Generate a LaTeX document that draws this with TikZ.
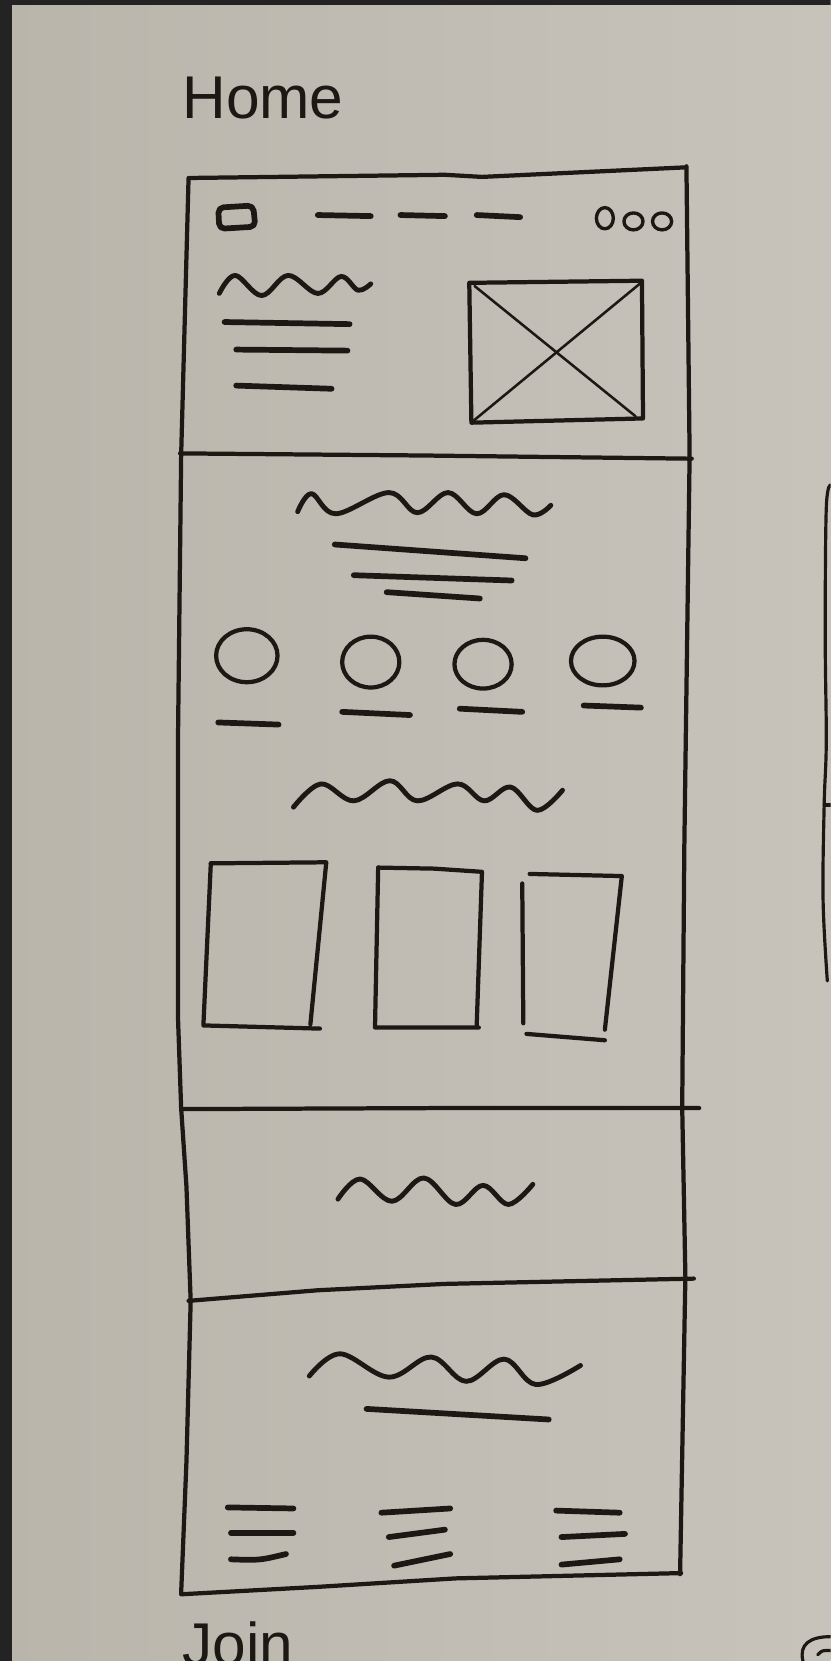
\documentclass[tikz,border=0pt]{standalone}
\usepackage{fontspec}
\setmainfont{Liberation Sans}
\definecolor{paperL}{HTML}{BAB5AB}
\definecolor{paperR}{HTML}{C7C3BB}
\definecolor{edgec}{HTML}{232323}
\definecolor{inkc}{HTML}{1C1915}
\begin{document}
\begin{tikzpicture}[x=1pt,y=-1pt,
  ink/.style={draw=inkc, line width=4pt, line cap=round, line join=round},
  scrib/.style={draw=inkc, line width=5.4pt, line cap=round, line join=round},
  thinink/.style={draw=inkc, line width=2.4pt, line cap=round},
  wave/.style={draw=inkc, line width=4.6pt, line cap=round, line join=round},
  label/.style={anchor=base west, inner sep=0pt, text=inkc, font=\fontsize{57}{60}\selectfont}]
\useasboundingbox (0,0) rectangle (784,1568);
\clip (0,0) rectangle (784,1568);
% paper
\shade[left color=paperL, right color=paperR] (0,0) rectangle (784,1568);
\fill[edgec] (0,0) rectangle (784,4.7);
\fill[edgec] (0,0) rectangle (11,1568);

% title texts
\node[label] (home) at (172,112) {Home};
\node[label] (join) at (172,1572) {Join};

% outer frame
\draw[ink] (180,168) -- (420,165) -- (455,167) -- (647,158);
\draw[ink] (648,157) -- (651,430) -- (646,800) -- (644,1045) -- (647,1205) -- (642,1486);
\draw[ink] (178,168) -- (171,430) -- (168,700) -- (168,960) -- (171,1046) -- (176,1120) -- (180,1228) -- (176,1380) -- (171,1504);
\draw[ink] (171,1505) -- (300,1498) -- (430,1490) -- (643,1485);
% section dividers
\draw[ink] (170,428) -- (400,430) -- (653,433);
\draw[ink] (172,1047) -- (420,1046) -- (660,1046);
\draw[ink] (178,1228) -- (300,1218) -- (420,1212) -- (655,1207);

% ---- header section
\draw[scrib, rounded corners=5pt] (206,196) -- (239,194) -- (241,214) -- (207,216) -- cycle;
\draw[scrib] (300,203) -- (350,204);
\draw[scrib] (378,203) -- (420,204);
\draw[scrib] (450,203) -- (491,205);
\draw[ink, line width=3.2pt] (571,206) ellipse [x radius=8, y radius=10];
\draw[ink, line width=3.2pt] (598,209) ellipse [x radius=9, y radius=8];
\draw[ink, line width=3.2pt] (625,209) ellipse [x radius=9, y radius=8];
\draw[wave] plot[smooth, tension=0.6] coordinates {(207,277) (222,260) (247,279) (272,260) (300,277) (322,261) (338,274) (350,268)};
\draw[scrib] (212,304) -- (330,306);
\draw[scrib] (223,330) -- (328,331);
\draw[scrib] (223,364) -- (313,367);
\draw[ink] (443,267) -- (606,265) -- (607,395) -- (445,399) -- cycle;
\draw[thinink] (448,270) -- (600,393);
\draw[thinink] (605,267) -- (446,398);

% ---- features section
\draw[wave] plot[smooth, tension=0.6] coordinates {(281,483) (294,466) (317,485) (367,465) (394,484) (423,465) (450,485) (476,467) (503,486) (520,477)};
\draw[scrib] (316,514) -- (496,527);
\draw[scrib] (334,543) -- (483,548);
\draw[scrib] (365,559) -- (453,565);
\draw[ink] (233,619) ellipse [x radius=29, y radius=25];
\draw[ink] (350,625) ellipse [x radius=27, y radius=24];
\draw[ink] (456,627) ellipse [x radius=27, y radius=23];
\draw[ink] (569,624) ellipse [x radius=30, y radius=23];
\draw[scrib] (206,682) -- (263,684);
\draw[scrib] (323,672) -- (387,675);
\draw[scrib] (434,669) -- (493,672);
\draw[scrib] (551,666) -- (605,668);
\draw[wave] plot[smooth, tension=0.6] coordinates {(277,762) (303,740) (334,756) (368,737) (394,756) (432,740) (457,756) (482,743) (507,765) (531,746)};
\draw[ink] (199,815) -- (308,814) -- (293,967);
\draw[ink] (199,815) -- (192,968) -- (302,971);
\draw[ink] (357,819) -- (410,820) -- (455,823) -- (450,968);
\draw[ink] (357,819) -- (354,970) -- (452,970);
\draw[ink] (500,825) -- (587,827) -- (571,972);
\draw[ink] (493,834) -- (494,966);
\draw[ink] (497,976) -- (571,982);

% ---- banner section
\draw[wave] plot[smooth, tension=0.6] coordinates {(319,1132) (340,1113) (370,1134) (400,1112) (430,1137) (456,1119) (480,1137) (503,1118)};

% ---- footer section
\draw[wave] plot[smooth, tension=0.6] coordinates {(292,1299) (321,1278) (367,1300) (407,1281) (440,1304) (476,1283) (506,1307) (548,1289)};
\draw[scrib] (346,1330) -- (518,1340);
\draw[scrib] (215,1423) -- (277,1424);
\draw[scrib] (218,1447) -- (277,1447);
\draw[scrib] (218,1472) .. controls (245,1473) .. (270,1467);
\draw[scrib] (360,1428) -- (425,1424);
\draw[scrib] (367,1451) -- (420,1444);
\draw[scrib] (372,1478) -- (425,1467);
\draw[scrib] (525,1426) -- (585,1428);
\draw[scrib] (530,1451) -- (590,1448);
\draw[scrib] (530,1477) -- (585,1472);

% ---- neighbouring sketch at the right edge
\draw[ink, line width=3pt] plot[smooth, tension=0.6] coordinates {(784,458) (780,480) (779,600) (780,700) (778,760) (777,850) (781,926)};
\draw[ink, line width=3pt] (778,760) -- (784,760);
\draw[ink, line width=3pt] (784,1545) .. controls (765,1545) and (754,1552) .. (758,1568);
\draw[ink, line width=3pt] (772,1562) .. controls (776,1558) .. (784,1558);
\end{tikzpicture}
\end{document}
